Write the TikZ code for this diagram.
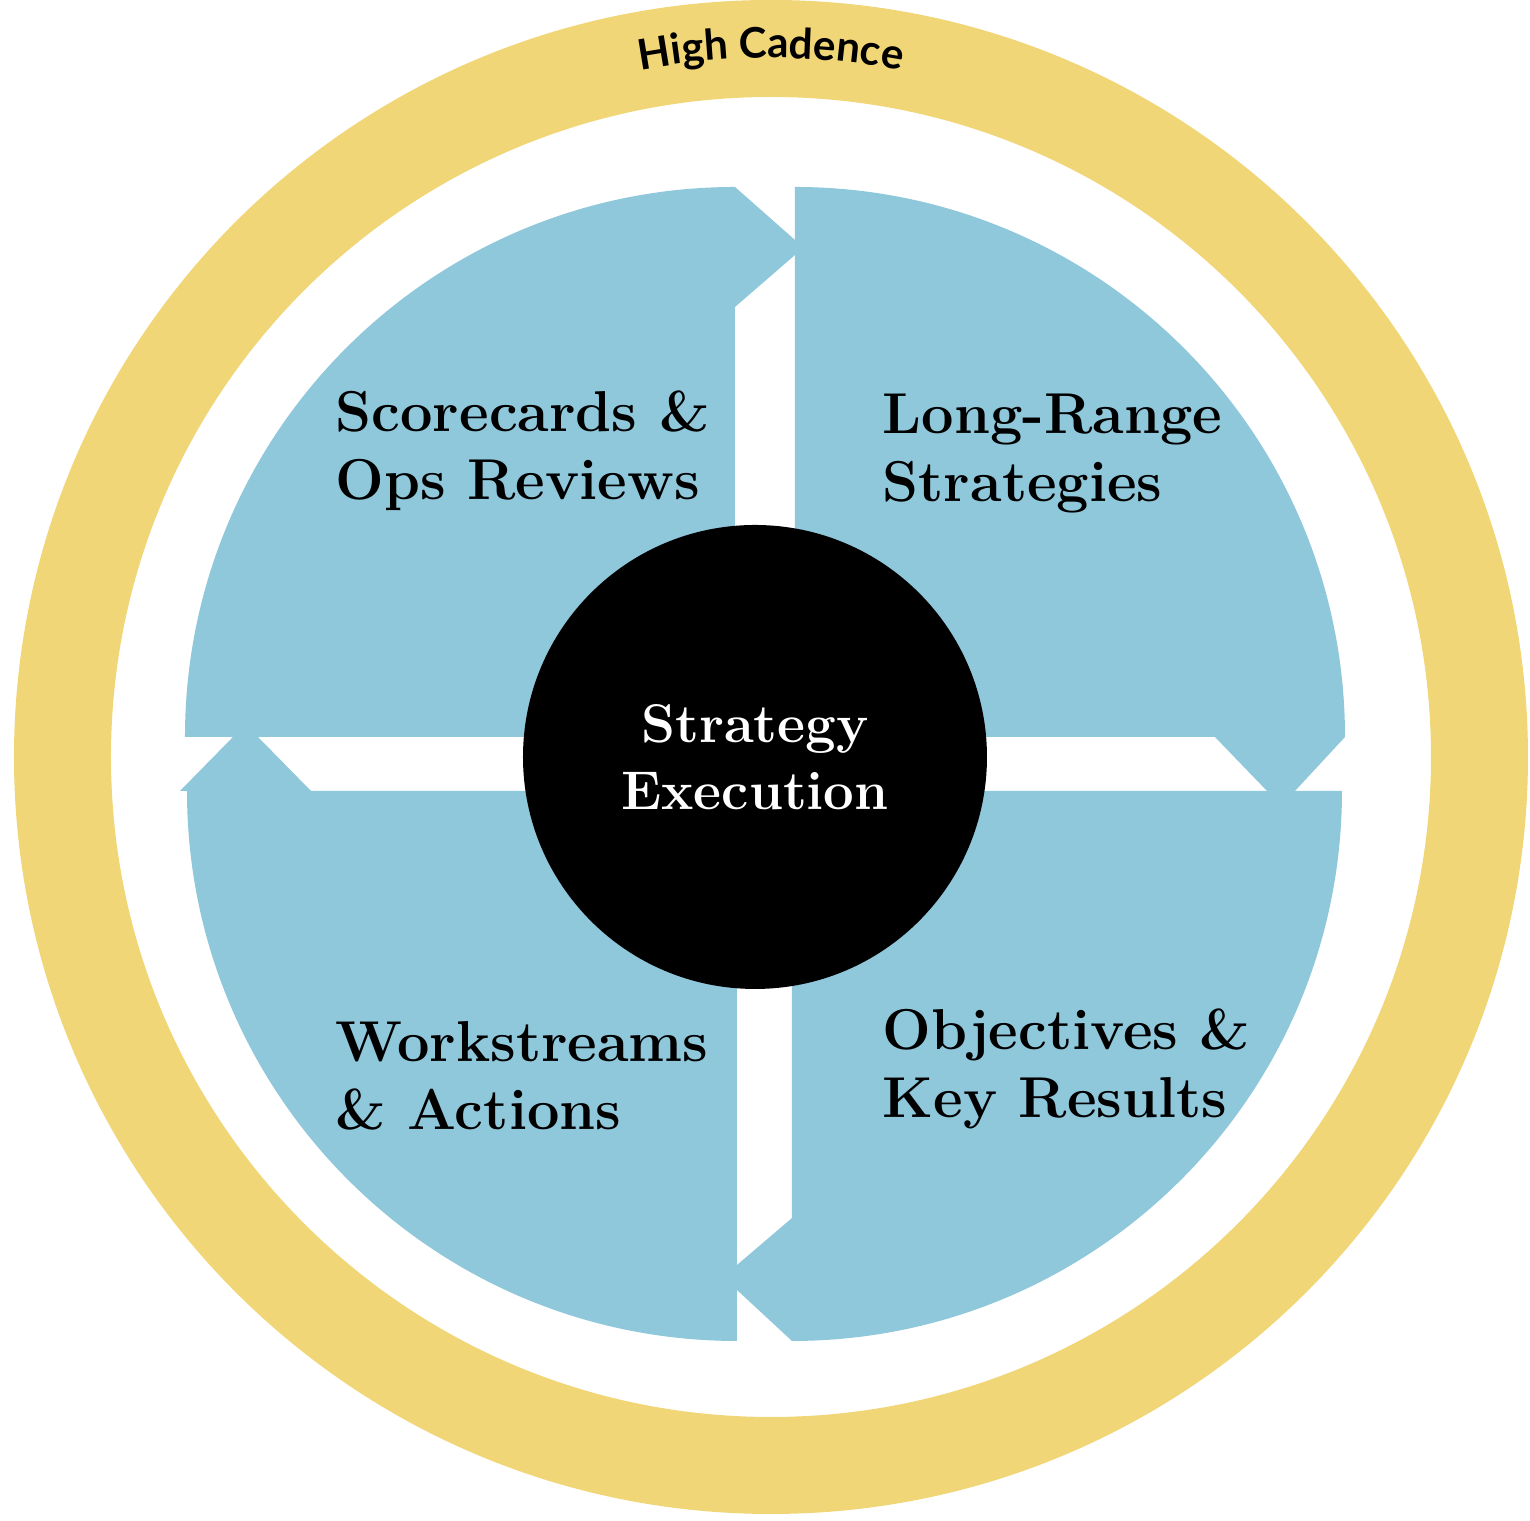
\documentclass[tikz,border=0pt]{standalone}
\usepackage{fontspec}
\usepackage{tikz}
\usetikzlibrary{decorations.text}
\newfontfamily\cadencefont{Lato}
\definecolor{ringyellow}{HTML}{F1D677}
\definecolor{quadblue}{HTML}{8FC7DB}
\newcommand{\quadfont}{\fontsize{16.4}{19.4}\selectfont\bfseries}

\begin{document}
\begin{tikzpicture}[
  x=0.1mm, y=0.1mm,
  quad/.style={fill=quadblue, draw=none},
  quadtext/.style={anchor=base west, align=left, inner sep=0pt, font=\quadfont},
  hub/.style={circle, fill=black, text=white, minimum size=46.4mm, inner sep=0pt,
              align=center, font=\fontsize{15.5}{19}\selectfont\bfseries}
]
\useasboundingbox (-771,-764) rectangle (759,757);
% outer ring
\fill[ringyellow, even odd rule] (0,0) circle (757) (0,0) circle (660);
\path[decorate, decoration={text along path, text align=center,
  text={|\cadencefont\bfseries\fontsize{12}{14}\selectfont|High Cadence}}]
  (120:699) arc (120:60:699);
% quadrants
\fill[quad] (-36,20) -- ++(-550,0) arc (180:90:550) -- cycle;
\fill[quad] (24,20) -- ++(0,550) arc (90:0:550) -- cycle;
\fill[quad] (21,-34) -- ++(550,0) arc (0:-90:550) -- cycle;
\fill[quad] (-34,-34) -- ++(0,-550) arc (270:180:550) -- cycle;
% arrow heads
\fill[quad] (-36,570) -- (24,517) -- (24,502) -- (-36,450) -- cycle;
\fill[quad] (444,20) -- (496,-34) -- (524,-34) -- (574,20) -- cycle;
\fill[quad] (21,-461) -- (-34,-508) -- (-34,-533) -- (21,-584) -- cycle;
\fill[quad] (-591,-34) -- (-538,20) -- (-513,20) -- (-460,-34) -- cycle;
% labels (anchored at the last line)
\node[quadtext] (scorecards) at (-436,257) {Scorecards \&\\Ops Reviews};
\node[quadtext] (longrange) at (111,255) {Long-Range\\Strategies};
\node[quadtext] (workstreams) at (-436,-373) {Workstreams\\\& Actions};
\node[quadtext] (objectives) at (111,-361) {Objectives \&\\Key Results};
\node[hub] (execution) at (-16,0) {Strategy\\Execution};
\end{tikzpicture}
\end{document}
